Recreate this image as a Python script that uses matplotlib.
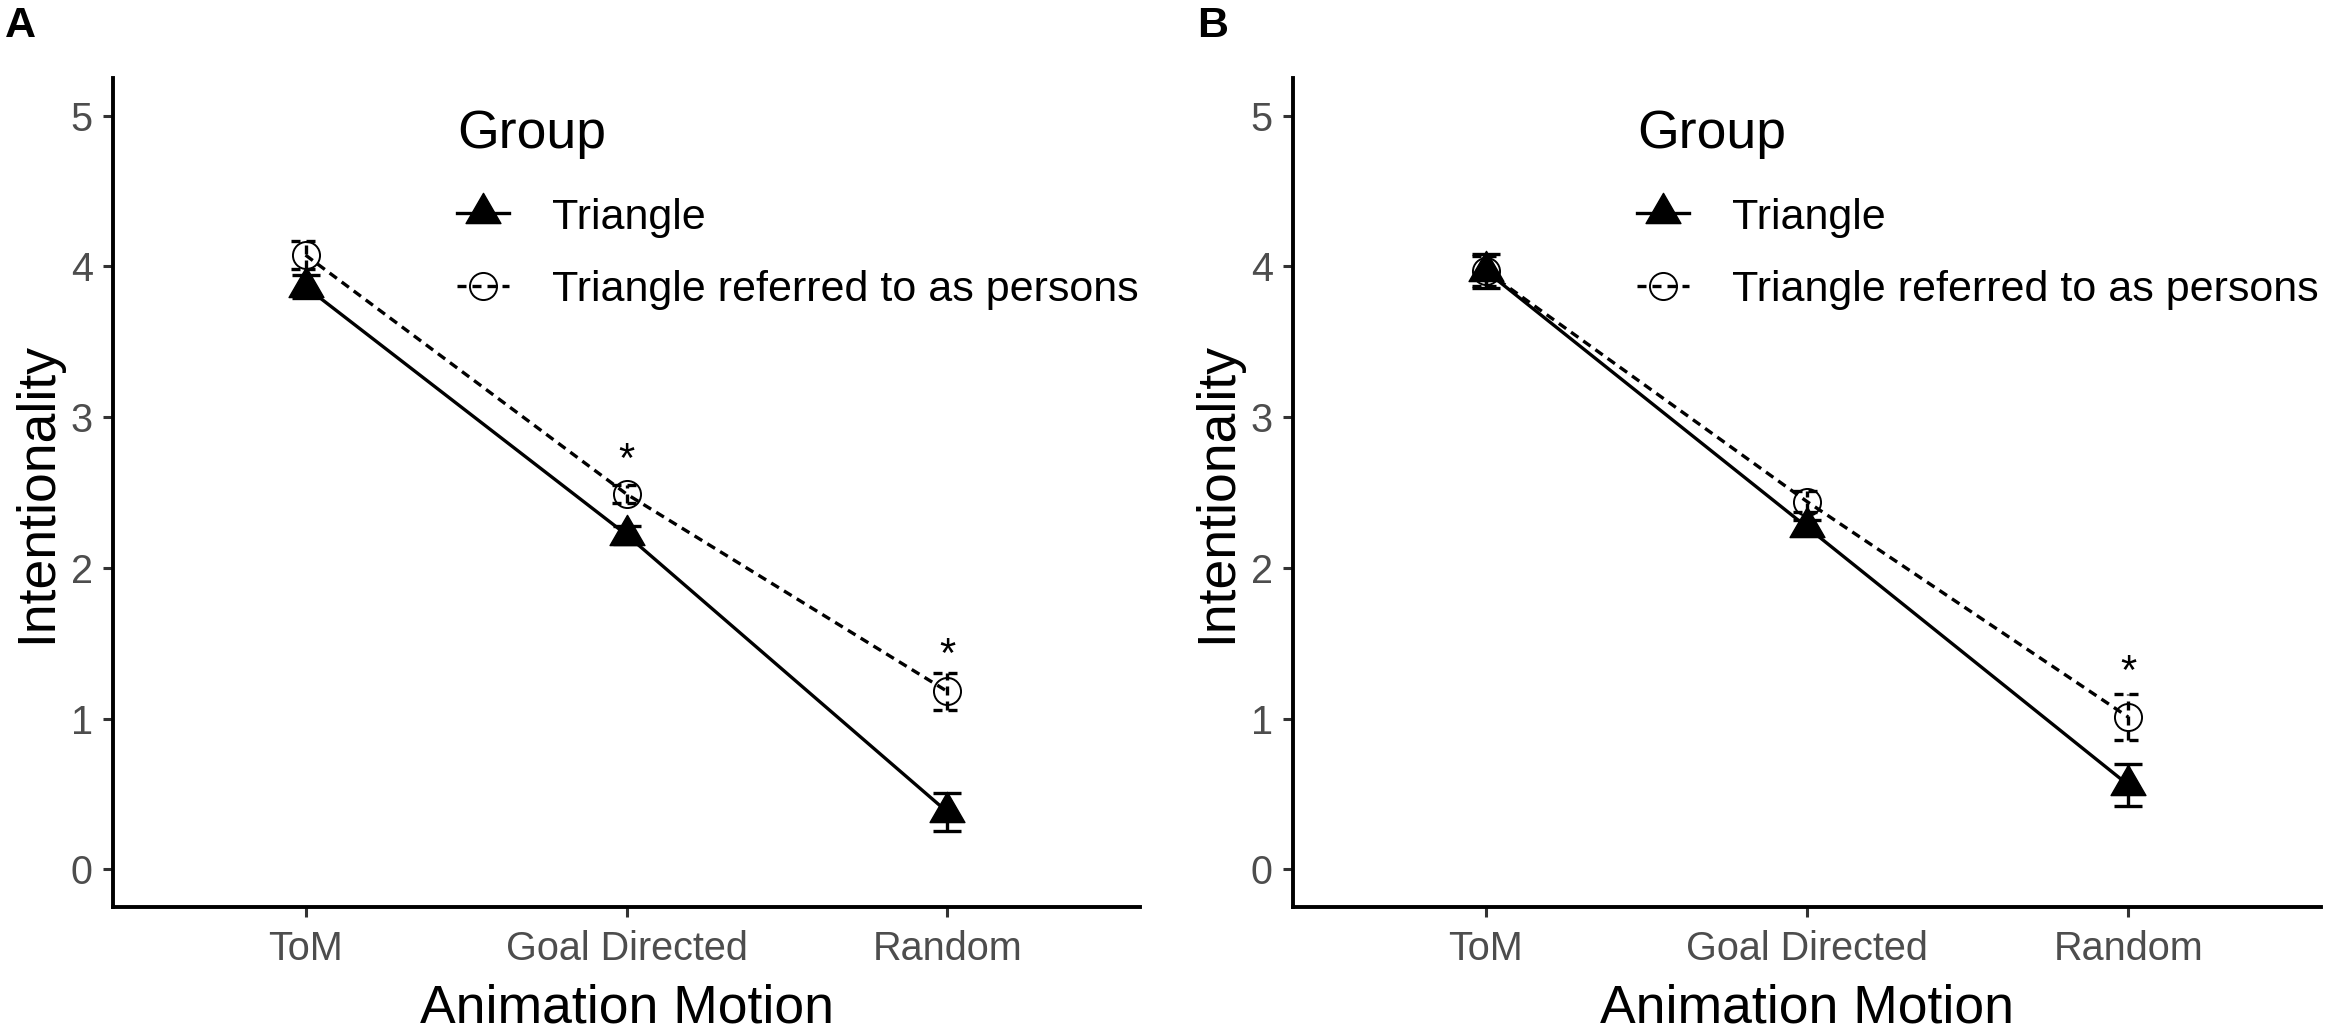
import matplotlib
matplotlib.use('Agg')
import matplotlib.pyplot as plt
import numpy as np
from matplotlib.path import Path
from matplotlib.lines import Line2D

plt.rcParams['font.family'] = ['Liberation Sans', 'DejaVu Sans']

# ---------------- data ----------------
categories = ['ToM', 'Goal Directed', 'Random']
groups = ['Triangle', 'Triangle referred to as persons']
yticks = [0, 1, 2, 3, 4, 5]

triangle_A = [3.865, 2.22, 0.38]
triangle_A_se = [0.075, 0.06, 0.125]
persons_A = [4.075, 2.49, 1.18]
persons_A_se = [0.095, 0.06, 0.125]
stars_A = [None, 2.785, 1.49]

triangle_B = [3.97, 2.27, 0.56]
triangle_B_se = [0.115, 0.05, 0.14]
persons_B = [3.97, 2.44, 1.01]
persons_B_se = [0.10, 0.07, 0.15]
stars_B = [None, None, 1.38]

panel_labels = ['A', 'B']

# ---------------- style ----------------
W, H = 2328, 1029
LW = 2.4
DASH = (0, (2.7, 1.8))
TRI = Path([(0, 1), (-0.866, -0.5), (0.866, -0.5), (0, 1)],
           [Path.MOVETO, Path.LINETO, Path.LINETO, Path.CLOSEPOLY])
MS_T = 29
MS_C = 19.5
CAP_PT = 10
CAPW = 0.044
TICK_COL = '#333333'
LAB_COL = '#4D4D4D'

fig = plt.figure(figsize=(W / 100, H / 100), dpi=100)
ax1 = fig.add_axes([113 / W, 1 - 907 / H, 1027 / W, 829 / H])
ax2 = fig.add_axes([1293 / W, 1 - 907 / H, 1028 / W, 829 / H])


def panel(ax, tri, tri_se, per, per_se, stars):
    x = np.arange(1, len(categories) + 1)
    tri = np.array(tri); per = np.array(per)
    tri_se = np.array(tri_se); per_se = np.array(per_se)
    ax.plot(x, tri, color='black', lw=LW, ls='-', zorder=2)
    ax.plot(x, per, color='black', lw=LW, ls=DASH, zorder=2)
    ax.errorbar(x, tri, yerr=tri_se, fmt='none', ecolor='black',
                elinewidth=LW, capsize=CAP_PT, capthick=LW, zorder=3)
    lo = per - per_se
    hi = per + per_se
    ax.vlines(x, lo, hi, colors='black', lw=LW, linestyles=[DASH], zorder=3)
    ax.hlines(np.r_[lo, hi], np.r_[x, x] - CAPW, np.r_[x, x] + CAPW,
              colors='black', lw=LW, linestyles=[DASH], zorder=3)
    ax.plot(x, tri, ls='none', marker=TRI, ms=MS_T, color='black', zorder=4)
    ax.plot(x, per, ls='none', marker='o', ms=MS_C, mfc='none', mec='black',
            mew=1.4, zorder=4)
    for xi, s in zip(x, stars):
        if s is not None:
            ax.annotate('*', (xi, s), xytext=(0, -16), textcoords='offset points',
                        ha='center', va='baseline', fontsize=30, color='black')

    ax.set_xlim(0.4, 3.6)
    ax.set_ylim(-0.25, 5.25)
    ax.set_xticks(x)
    ax.set_xticklabels(categories)
    ax.set_yticks(yticks)
    ax.set_yticklabels([str(v) for v in yticks])
    for sp in ['top', 'right']:
        ax.spines[sp].set_visible(False)
    for sp in ['left', 'bottom']:
        ax.spines[sp].set_linewidth(2.8)
        ax.spines[sp].set_color('black')
    ax.tick_params(axis='both', length=7.5, width=2.2, color=TICK_COL,
                   labelsize=28.5, labelcolor=LAB_COL)
    ax.tick_params(axis='y', pad=7)
    ax.tick_params(axis='x', pad=9)
    ax.set_xlabel('Animation Motion', fontsize=38.5, labelpad=11)
    ax.set_ylabel('Intentionality', fontsize=38.5, labelpad=6)

    handles = [Line2D([], [], color='black', lw=LW, ls='-', marker=TRI, ms=MS_T),
               Line2D([], [], color='black', lw=LW, ls=DASH, marker='o', ms=MS_C,
                      mfc='none', mec='black', mew=1.4)]
    leg = ax.legend(handles, groups, title='Group', loc='upper left',
                    bbox_to_anchor=(0.335, 0.963), frameon=False, fontsize=31,
                    title_fontsize=38.5, handlelength=1.2, handletextpad=1.0,
                    labelspacing=0.76, borderpad=0, borderaxespad=0,
                    numpoints=1, alignment='left')
    leg._legend_box.sep = 28


panel(ax1, triangle_A, triangle_A_se, persons_A, persons_A_se, stars_A)
panel(ax2, triangle_B, triangle_B_se, persons_B, persons_B_se, stars_B)

fig.text(5 / W, 1 - 6 / H, panel_labels[0], fontsize=31, fontweight='bold', va='top', ha='left')
fig.text(1197 / W, 1 - 6 / H, panel_labels[1], fontsize=31, fontweight='bold', va='top', ha='left')

fig.savefig('out.png', dpi=100)
